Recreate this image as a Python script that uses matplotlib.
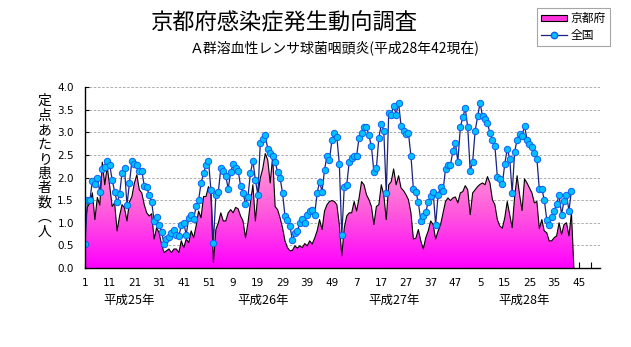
import matplotlib.pyplot as plt
import numpy as np
from matplotlib.colors import LinearSegmentedColormap
from matplotlib.lines import Line2D
from matplotlib.patches import Patch, PathPatch

plt.rcParams['font.family'] = ['Noto Sans CJK JP', 'DejaVu Sans']

# 全国 (national), weeks 2013-01 .. 2016-42
national = [0.53, 1.51, 1.51, 1.93, 1.86, 2.00, 1.67, 2.19, 2.24, 2.37,
            2.28, 1.95, 1.69, 1.45, 1.63, 2.10, 2.20, 1.39, 1.89, 2.37,
            2.30, 2.28, 2.15, 2.15, 1.82, 1.78, 1.61, 1.45, 1.05, 1.12,
            0.94, 0.80, 0.54, 0.64, 0.69, 0.77, 0.85, 0.74, 0.70, 0.94,
            0.99, 0.74, 1.10, 1.18, 1.09, 1.36, 1.50, 1.88, 2.09, 2.28,
            2.37, 1.73, 0.55, 1.62, 1.69, 2.20, 2.15, 2.04, 1.75, 2.12,
            2.29, 2.22, 2.15, 1.82, 1.66, 1.42, 1.58, 2.10, 2.37, 1.95,
            1.62, 2.77, 2.86, 2.93, 2.64, 2.54, 2.48, 2.35, 2.12, 1.99,
            1.66, 1.14, 1.07, 0.93, 0.61, 0.77, 0.82, 0.99, 1.08, 0.99,
            1.18, 1.26, 1.28, 1.18, 1.65, 1.91, 1.69, 2.17, 2.48, 2.39,
            2.83, 2.99, 2.89, 2.30, 0.72, 1.80, 1.84, 2.34, 2.44, 2.48,
            2.48, 2.88, 2.99, 3.11, 3.11, 2.93, 2.69, 2.12, 2.20, 2.88,
            3.18, 3.04, 1.65, 3.42, 3.39, 3.59, 3.39, 3.65, 3.14, 3.04,
            2.96, 2.98, 2.48, 1.74, 1.69, 1.45, 1.04, 1.15, 1.24, 1.46,
            1.60, 1.69, 0.95, 1.61, 1.80, 1.71, 2.19, 2.28, 2.28, 2.59,
            2.77, 2.35, 3.11, 3.33, 3.53, 3.11, 2.15, 2.35, 3.03, 3.35,
            3.65, 3.35, 3.29, 3.20, 2.98, 2.84, 2.70, 2.01, 1.97, 1.85,
            2.30, 2.64, 2.42, 1.65, 2.57, 2.84, 2.97, 2.92, 3.15, 2.84,
            2.75, 2.68, 2.55, 2.42, 1.74, 1.75, 1.51, 1.07, 0.96, 1.12,
            1.26, 1.42, 1.61, 1.18, 1.49, 1.61, 1.27, 1.71]

# 京都府 (Kyoto), last entry is the empty week 43 (0)
kyoto = [1.00, 1.35, 1.44, 1.66, 1.07, 1.56, 1.39, 2.34, 1.84, 2.24,
         1.82, 1.36, 1.44, 0.82, 1.15, 1.40, 1.33, 1.04, 1.46, 1.58,
         1.88, 2.06, 1.73, 1.66, 1.40, 1.22, 1.15, 1.20, 0.64, 0.89,
         0.78, 0.53, 0.34, 0.38, 0.42, 0.34, 0.42, 0.42, 0.34, 0.60,
         0.45, 0.64, 0.56, 0.82, 0.67, 0.93, 1.26, 1.11, 1.58, 1.58,
         1.80, 1.66, 0.12, 0.85, 1.00, 1.22, 1.04, 1.04, 1.22, 1.29,
         1.22, 1.34, 1.31, 1.15, 1.04, 0.67, 1.00, 1.44, 1.84, 1.04,
         1.62, 1.99, 2.20, 2.53, 2.39, 1.88, 2.46, 1.36, 1.29, 1.11,
         0.89, 0.60, 0.45, 0.38, 0.39, 0.49, 0.44, 0.49, 0.45, 0.54,
         0.49, 0.60, 0.53, 0.66, 0.82, 1.07, 0.85, 1.26, 1.40, 1.47,
         1.49, 1.47, 1.40, 0.96, 0.27, 0.89, 1.15, 1.22, 1.22, 1.47,
         1.26, 1.55, 1.91, 1.84, 1.62, 1.51, 1.36, 0.96, 1.36, 1.40,
         1.84, 1.62, 1.07, 1.84, 1.91, 2.19, 1.84, 2.04, 1.77, 1.71,
         1.62, 1.51, 1.22, 0.64, 0.66, 0.85, 0.60, 0.42, 0.67, 0.82,
         1.04, 0.96, 0.64, 0.82, 0.96, 1.22, 1.47, 1.55, 1.49, 1.55,
         1.57, 1.44, 1.66, 1.69, 1.82, 1.73, 1.18, 1.66, 1.73, 1.80,
         1.85, 1.88, 1.84, 2.02, 1.88, 1.51, 1.40, 1.07, 0.93, 0.88,
         1.11, 1.47, 1.18, 0.89, 1.58, 2.04, 1.62, 1.27, 1.97, 1.88,
         1.77, 1.66, 1.44, 1.47, 0.87, 1.07, 0.82, 0.78, 0.60, 0.60,
         0.67, 0.71, 1.00, 0.74, 0.96, 1.00, 0.71, 1.22, 0.0]

week_labels = ['1', '11', '21', '31', '41', '51', '9', '19', '29', '39', '49',
               '7', '17', '27', '37', '47', '5', '15', '25', '35', '45']
year_labels = ['平成25年', '平成26年', '平成27年', '平成28年']
y_ticks = [0.0, 0.5, 1.0, 1.5, 2.0, 2.5, 3.0, 3.5, 4.0]

x_nat = np.arange(1, len(national) + 1)
x_kyo = np.arange(1, len(kyoto) + 1)

fig = plt.figure(figsize=(6.31, 3.47), dpi=100)
ax = fig.add_axes([0.1347, 0.2277, 0.8163, 0.5213])

# gradient-filled area for Kyoto
cmap = LinearSegmentedColormap.from_list('pinks', ['#FF00FF', '#FF5CDC', '#FFA8D6'])
poly = ax.fill_between(x_kyo, kyoto, 0, facecolor='none', edgecolor='none')
clip = PathPatch(poly.get_paths()[0], transform=ax.transData,
                 facecolor='none', edgecolor='none')
ax.add_patch(clip)
grad = np.linspace(0, 1, 256).reshape(-1, 1)
im = ax.imshow(grad, extent=[1, len(kyoto), 0, max(kyoto)], origin='lower',
               aspect='auto', cmap=cmap, zorder=1)
im.set_clip_path(clip)
ax.plot(x_kyo, kyoto, color='black', lw=0.8, zorder=2)

ax.plot(x_nat, national, color='#1A237E', lw=0.9, marker='o', markersize=4.6,
        markerfacecolor='#00C0FF', markeredgecolor='#1060F0', markeredgewidth=0.7,
        zorder=3)

ax.set_xlim(1, 209.6)
ax.set_ylim(0, 4.0)

ax.set_yticks(y_ticks)
ax.set_yticklabels([f'{v:.1f}' for v in y_ticks],
                   family=['Liberation Sans Narrow', 'DejaVu Sans'], fontsize=7.5)
ax.set_xticks(np.arange(1, 211, 10))
ax.set_xticklabels(week_labels, family=['Liberation Sans Narrow', 'DejaVu Sans'],
                   fontsize=7.5)
ax.set_xticks(np.arange(1, 211, 5), minor=True)
ax.tick_params(axis='x', which='both', direction='in', length=4, width=0.8, pad=7)
ax.tick_params(axis='y', direction='in', length=3, width=0.8, pad=8)

ax.yaxis.grid(True, color='#A0A0A0', linestyle=(0, (3, 2)), lw=0.6)
ax.set_axisbelow(True)
for s in ['top', 'right']:
    ax.spines[s].set_visible(False)
for s in ['left', 'bottom']:
    ax.spines[s].set_linewidth(1.0)
    ax.spines[s].set_zorder(4)

# year labels under the week numbers
trans = ax.get_xaxis_transform()
for xpos, lab in zip([19, 73, 126, 179], year_labels):
    ax.text(xpos, -0.18, lab, transform=trans, ha='center', va='center', fontsize=9)

fig.text(0.45, 0.935, '京都府感染症発生動向調査', ha='center', va='center', fontsize=16)
fig.text(0.531, 0.862, 'Ａ群溶血性レンサ球菌咽頭炎(平成28年42現在)', ha='center',
         va='center', fontsize=10)
fig.text(0.071, 0.52, '\n'.join('定点あたり患者数︵人'), ha='center', va='center',
         fontsize=10, linespacing=1.05)

handles = [Patch(facecolor='#FF33DD', edgecolor='black', lw=0.8),
           Line2D([], [], color='#1A237E', lw=0.9, marker='o', markersize=4.6,
                  markerfacecolor='#00C0FF', markeredgecolor='#1060F0')]
leg = fig.legend(handles, ['京都府', '全国'], loc='upper right',
                 bbox_to_anchor=(0.967, 0.977), borderaxespad=0, fontsize=8.5,
                 frameon=True, fancybox=False, borderpad=0.35, handlelength=2.2,
                 handleheight=0.5, handletextpad=0.3, labelspacing=0.35)
leg.get_frame().set_edgecolor('#909090')
leg.get_frame().set_linewidth(0.8)

fig.savefig('out.png', dpi=100)
